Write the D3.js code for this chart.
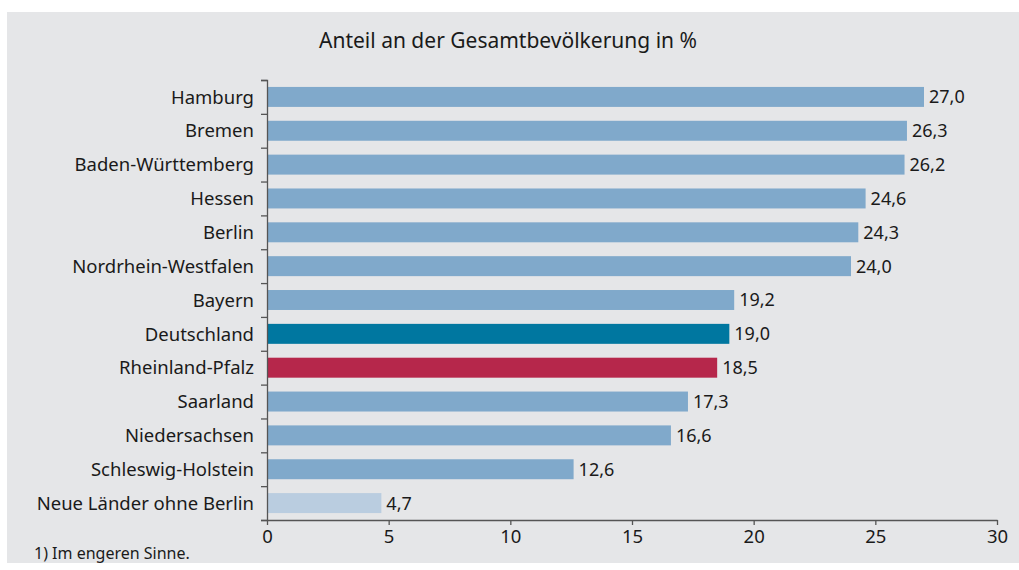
<!DOCTYPE html>
<html>
<head>
<meta charset="utf-8">
<script src="https://cdn.jsdelivr.net/npm/d3@7"></script>
<style>
  body { margin: 0; background: #ffffff; }
  text { font-family: "Noto Sans", "Open Sans", sans-serif; fill: #1a1a1a; }
</style>
</head>
<body>
<div id="chart"></div>
<script>
// data
var states = ["Hamburg", "Bremen", "Baden-Württemberg", "Hessen", "Berlin",
  "Nordrhein-Westfalen", "Bayern", "Deutschland", "Rheinland-Pfalz", "Saarland",
  "Niedersachsen", "Schleswig-Holstein", "Neue Länder ohne Berlin"];
var shares = [27.0, 26.3, 26.2, 24.6, 24.3, 24.0, 19.2, 19.0, 18.5, 17.3, 16.6, 12.6, 4.7];
var xTicks = [0, 5, 10, 15, 20, 25, 30];
var title = "Anteil an der Gesamtbevölkerung in %";
var footnote = "1) Im engeren Sinne.";

var svgWidth = 1019;
var svgHeight = 570;

var margin = { top: 80, right: 22, bottom: 50, left: 267 };
var width = svgWidth - margin.left - margin.right;
var height = svgHeight - margin.top - margin.bottom;

var svg = d3.select("#chart")
  .append("svg")
  .attr("width", svgWidth)
  .attr("height", svgHeight);

// grey panel
svg.append("rect")
  .attr("x", 7)
  .attr("y", 12)
  .attr("width", svgWidth - 7)
  .attr("height", 551)
  .attr("fill", "#e5e6e8");

svg.append("text")
  .attr("x", 508)
  .attr("y", 48)
  .attr("text-anchor", "middle")
  .attr("font-size", "21px")
  .text(title);

var chartGroup = svg.append("g")
  .attr("transform", `translate(${margin.left}, ${margin.top})`);

var xScale = d3.scaleLinear()
  .domain([0, 30])
  .range([0, 730]);

var yScale = d3.scaleBand()
  .domain(states)
  .range([0, height])
  .paddingInner(0.41)
  .paddingOuter(0.205);

// ticks of the y axis sit between the bars
var yEdge = d3.scaleLinear()
  .domain([0, states.length])
  .range([0, height]);

function barColor(name) {
  if (name === "Deutschland") return "#0077a0";
  if (name === "Rheinland-Pfalz") return "#b6274b";
  if (name === "Neue Länder ohne Berlin") return "#bacde0";
  return "#80a9cb";
}

chartGroup.selectAll(".bar")
  .data(states)
  .enter()
  .append("rect")
  .attr("class", "bar")
  .attr("x", 0)
  .attr("y", d => yScale(d))
  .attr("width", (d, i) => xScale(shares[i]))
  .attr("height", yScale.bandwidth())
  .attr("fill", d => barColor(d));

// value labels
chartGroup.selectAll(".value")
  .data(states)
  .enter()
  .append("text")
  .attr("class", "value")
  .attr("x", (d, i) => xScale(shares[i]) + 5)
  .attr("y", d => yScale(d) + yScale.bandwidth() / 2)
  .attr("dy", "0.36em")
  .attr("font-size", "18px")
  .text((d, i) => d3.format(".1f")(shares[i]).replace(".", ","));

// category labels
chartGroup.selectAll(".label")
  .data(states)
  .enter()
  .append("text")
  .attr("class", "label")
  .attr("x", -13)
  .attr("y", d => yScale(d) + yScale.bandwidth() / 2)
  .attr("dy", "0.36em")
  .attr("text-anchor", "end")
  .attr("font-size", "18.5px")
  .text(d => d);

var yAxis = chartGroup.append("g")
  .call(d3.axisLeft(yEdge).tickValues(d3.range(states.length + 1)).tickSize(6).tickFormat(""));

var xAxis = chartGroup.append("g")
  .attr("transform", `translate(0, ${height})`)
  .call(d3.axisBottom(xScale).tickValues(xTicks).tickSize(5).tickSizeOuter(0).tickPadding(5));

xAxis.selectAll("text")
  .attr("font-size", "18.5px")
  .attr("font-family", "Noto Sans, sans-serif")
  .attr("fill", "#1a1a1a");

svg.selectAll(".domain, .tick line")
  .attr("stroke", "#555555")
  .attr("stroke-width", 1.3);

svg.append("text")
  .attr("x", 34)
  .attr("y", 559)
  .attr("font-size", "16px")
  .text(footnote);
</script>
</body>
</html>
